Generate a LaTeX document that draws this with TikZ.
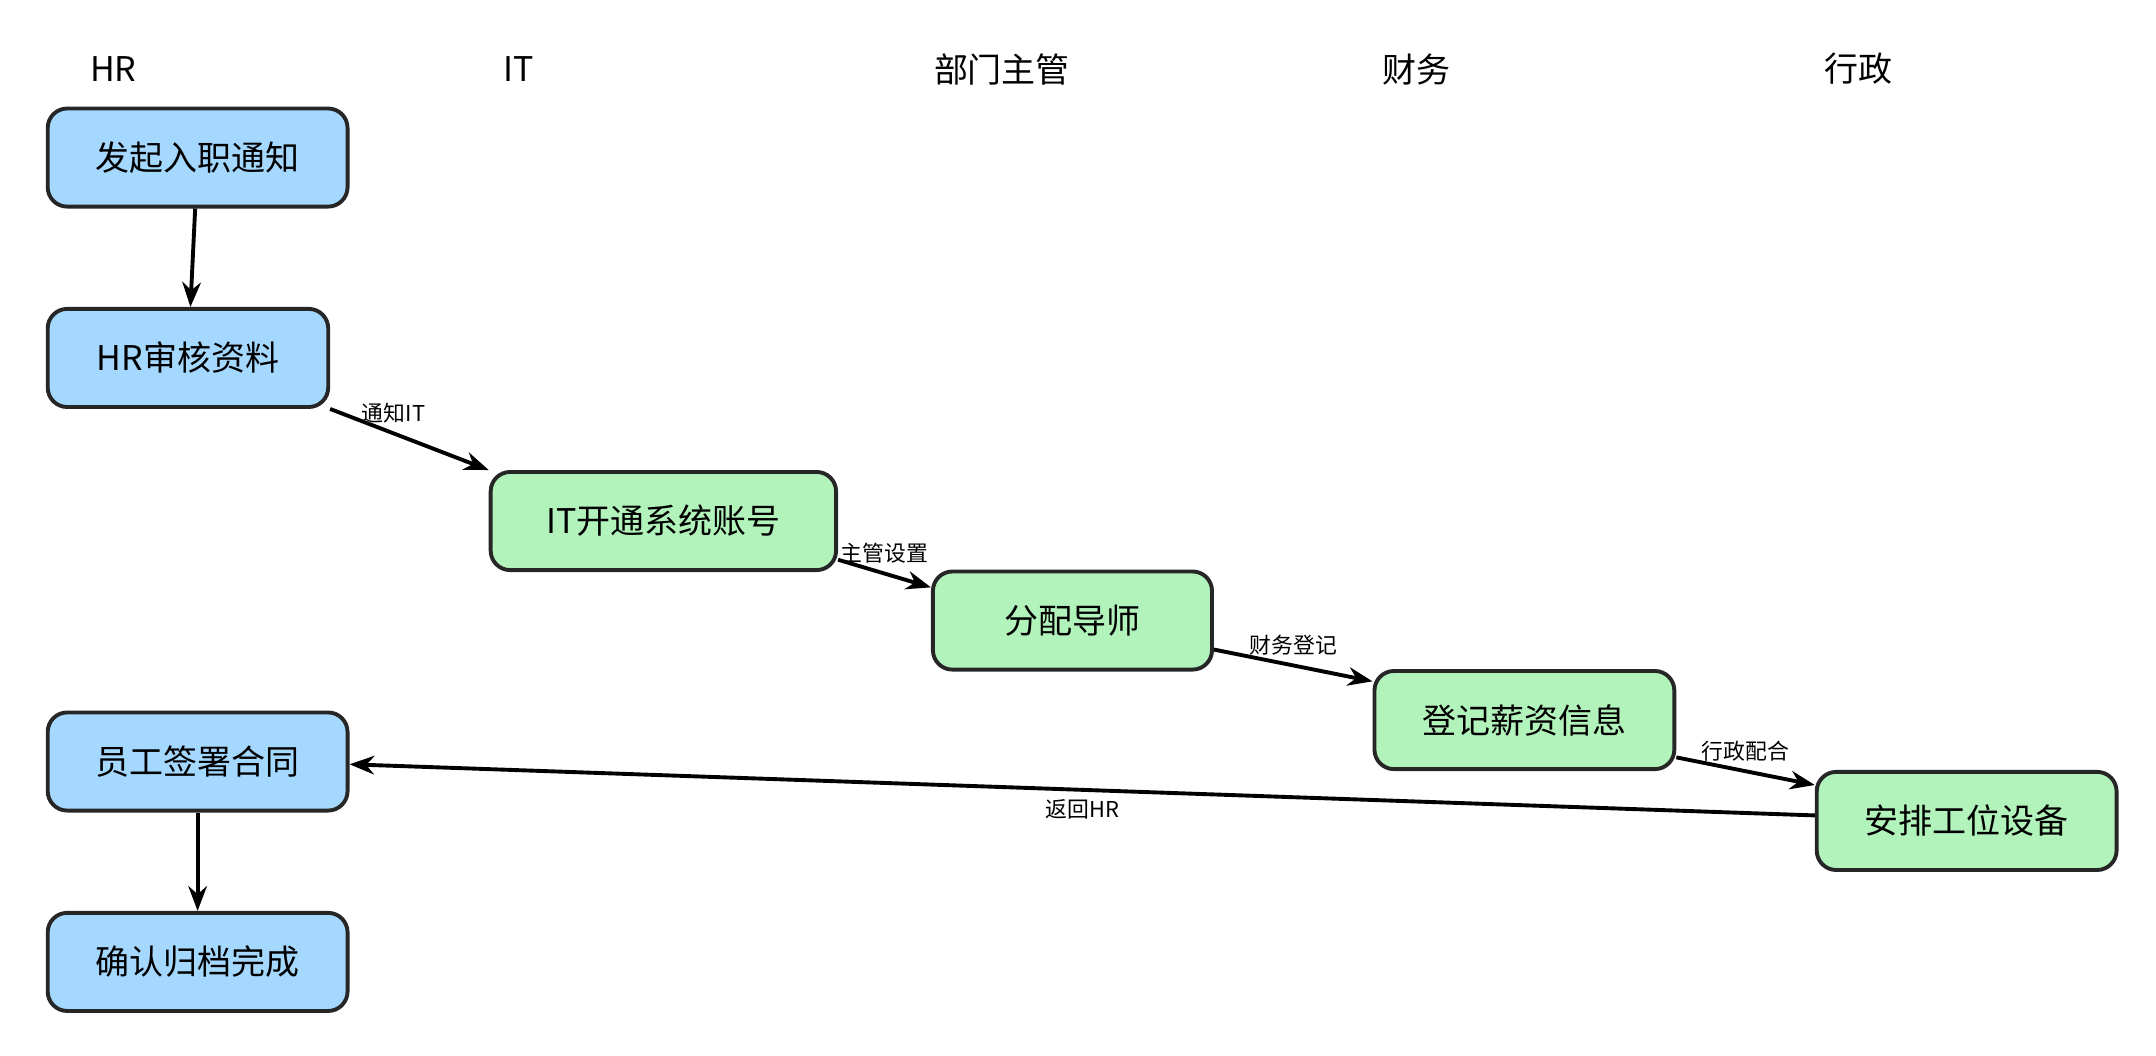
\documentclass[tikz,border=0pt]{standalone}
\usepackage{fontspec}
\setmainfont{Noto Sans CJK SC}
\usetikzlibrary{positioning,arrows.meta}
\definecolor{hrblue}{HTML}{A5D8FF}
\definecolor{stepgreen}{HTML}{B2F2BB}
\begin{document}
\begin{tikzpicture}[x=0.02cm,y=-0.02cm,->,>=Stealth,line width=1.6pt,
  box/.style={draw=black!85,rounded corners=8pt,minimum height=1.42cm,inner sep=0pt,font=\fontsize{14}{16}\selectfont},
  hr node/.style={box,fill=hrblue,minimum width=4.34cm},
  step node/.style={box,fill=stepgreen},
  lane/.style={font=\fontsize{14}{16}\selectfont},
  lbl/.style={font=\fontsize{9}{10}\selectfont,draw=none}]
  \useasboundingbox (0,0) rectangle (1560,764);

  % lane titles
  \node[lane] (hh) at (82,50) {HR};
  \node[lane] (ih) at (375,50) {IT};
  \node[lane] (mh) at (725,50) {部门主管};
  \node[lane] (fh) at (1025,50) {财务};
  \node[lane] (ah) at (1345,50) {行政};

  \node[hr node] (start) at (143,114) {发起入职通知};
  \node[hr node,minimum width=4.06cm] (check) at (136,259) {HR审核资料};
  \node[step node,minimum width=5cm] (it) at (480,377) {IT开通系统账号};
  \node[step node,minimum width=4.04cm] (mentor) at (776,449) {分配导师};
  \node[step node,minimum width=4.34cm] (salary) at (1103,521) {登记薪资信息};
  \node[step node,minimum width=4.34cm] (desk) at (1423,594) {安排工位设备};
  \node[hr node] (sign) at (143,551) {员工签署合同};
  \node[hr node] (done) at (143,696) {确认归档完成};

  \draw (start) -- (check);
  \draw (check.south east) -- node[lbl,above,pos=0.4]{通知IT} (it.north west);
  \draw (it.east |- 0,405) -- node[lbl,above]{主管设置} (mentor.west |- 0,425);
  \draw (mentor.east |- 0,470) -- node[lbl,above]{财务登记} (salary.west |- 0,493);
  \draw (salary.east |- 0,548) -- node[lbl,above]{行政配合} (desk.west |- 0,568);
  \draw (desk.west |- 0,590) -- node[lbl,below]{返回HR} (sign.east |- 0,553);
  \draw (sign) -- (done);
\end{tikzpicture}
\end{document}
